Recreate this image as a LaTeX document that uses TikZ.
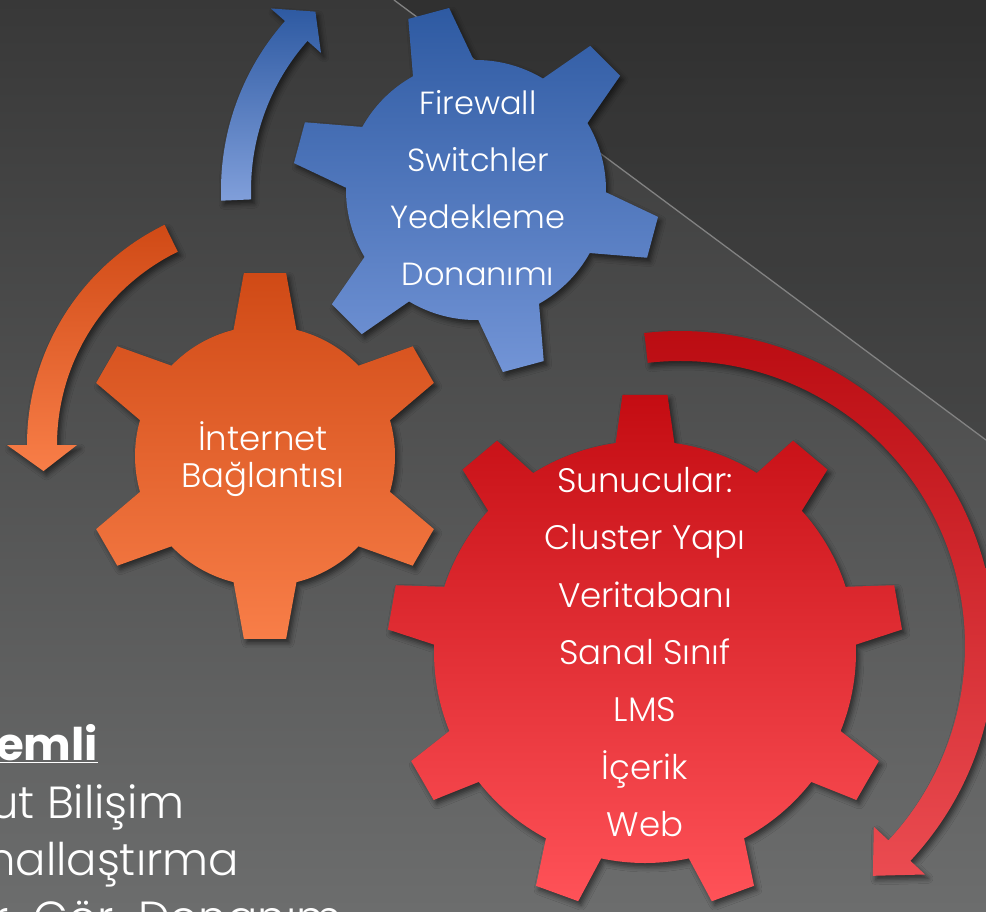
\documentclass[tikz,border=0pt]{standalone}
\usepackage{fontspec}
\setmainfont{Poppins}
\IfFontExistsTF{Poppins Light}{\newfontfamily\lite{Poppins Light}}{\newfontfamily\lite{Poppins}}
\usetikzlibrary{shadows.blur}
\definecolor{bgtop}{RGB}{56,56,56}
\definecolor{bgbot}{RGB}{108,109,109}
\definecolor{diag}{RGB}{130,130,130}
\definecolor{bluetop}{RGB}{46,90,162}
\definecolor{bluebot}{RGB}{114,148,214}
\definecolor{orgtop}{RGB}{208,74,22}
\definecolor{orgbot}{RGB}{248,126,72}
\definecolor{redtop}{RGB}{196,12,18}
\definecolor{redbot}{RGB}{255,82,88}
\begin{document}
\begin{tikzpicture}[x=1pt,y=-1pt,
  shad/.style={blur shadow={shadow xshift=3pt,shadow yshift=-4pt,shadow blur radius=5pt,shadow opacity=55}},
  gearblue/.style={shad,top color=bluetop,bottom color=bluebot},
  gearorg/.style={shad,top color=orgtop,bottom color=orgbot},
  gearred/.style={shad,top color=redtop,bottom color=redbot},
  arrblue/.style={shad,top color=bluetop,bottom color=bluebot!90!white},
  arrorg/.style={shad,top color=orgtop,bottom color=orgbot},
  arrred/.style={shad,top color=redtop!95!black,bottom color=redbot!92!black},
  btext/.style={text=white,align=center,inner sep=0pt,font=\lite\fontsize{32}{57}\selectfont},
  rtext/.style={text=white,align=center,inner sep=0pt,font=\lite\fontsize{34}{57.3}\selectfont},
  otext/.style={text=white,align=center,inner sep=0pt,font=\lite\fontsize{34}{37}\selectfont},
  ltext/.style={text=white,inner sep=0pt,anchor=base west,font=\lite\fontsize{45}{57}\selectfont}]
\useasboundingbox (0,0) rectangle (986,911);
\clip (0,0) rectangle (986,911);
% background
\shade[top color=bgtop,bottom color=bgbot] (0,0) rectangle (986,911);
\coordinate (d1) at (394,0);
\coordinate (d2) at (986,440);
\coordinate (d3) at (986,0);
\fill[black,opacity=0.14] (d1) -- (d3) -- (d2) -- cycle;
\draw[diag,line width=1.3] (d1) -- (d2);

% blue arrow
\begin{scope}[shift={(476,190)}]
\path[arrblue] (177.6:225) arc[start angle=177.6,end angle=221.5,radius=225]
  -- (221.5:207) -- (228:240) -- (221.5:274) -- (221.5:255)
  arc[start angle=221.5,end angle=177.6,radius=255] -- cycle;
\end{scope}
% orange arrow
\begin{scope}[shift={(272,445)}]
\path[arrorg] (244:215) arc[start angle=244,end angle=180,radius=215]
  -- (180:195) -- (173.5:230) -- (180:265) -- (180:245)
  arc[start angle=180,end angle=244,radius=245] -- cycle;
\end{scope}
% blue gear
\begin{scope}[shift={(476,190)}]
\path[gearblue] (1:130) \foreach \a in {15,75,135,195,255,315} {
  -- ({\a-14}:130) -- ({\a-6.6}:184) -- ({\a+6.6}:184) -- ({\a+14}:130)
  arc[start angle={\a+14},end angle={\a+46},radius=130] } -- cycle;
\end{scope}
% orange gear
\begin{scope}[shift={(265,456)}]
\path[gearorg] (16:130) \foreach \a in {30,90,150,210,270,330} {
  -- ({\a-14}:130) -- ({\a-6.6}:184) -- ({\a+6.6}:184) -- ({\a+14}:130)
  arc[start angle={\a+14},end angle={\a+46},radius=130] } -- cycle;
\end{scope}
% red arrow
\begin{scope}[shift={(680,646)}]
\path[arrred] (263.5:285) arc[start angle=263.5,end angle=403,radius=285]
  -- (403:265) -- (410:300) -- (403:335) -- (403:315)
  arc[start angle=403,end angle=263.5,radius=315] -- cycle;
\end{scope}
% red gear
\begin{scope}[shift={(645,652)}]
\path[gearred] (262:211) \foreach \a in {270,310,350,30,70,110,150,190,230} {
  -- ({\a-8}:211) -- ({\a-5}:258) -- ({\a+5}:258) -- ({\a+8}:211)
  arc[start angle={\a+8},end angle={\a+32},radius=211] } -- cycle;
\end{scope}

% texts
\node[btext] (tblue) at (478,188) {Firewall\\Switchler\\Yedekleme\\Donanımı};
\node[otext] (torg) at (263,459) {İnternet\\Bağlantısı};
\node[rtext] (tred) at (645,652) {Sunucular:\\Cluster Yapı\\Veritabanı\\Sanal Sınıf\\LMS\\İçerik\\Web};
\node[ltext,font=\bfseries\fontsize{45}{57}\selectfont] (l1) at (-4,760) {\underline{emli}};
\node[ltext] (l2) at (-10,818) {ut Bilişim};
\node[ltext] (l3) at (-13,875) {nallaştırma};
\node[ltext] (l4) at (-8,933) {r. Gör. Donanım};
\end{tikzpicture}
\end{document}
